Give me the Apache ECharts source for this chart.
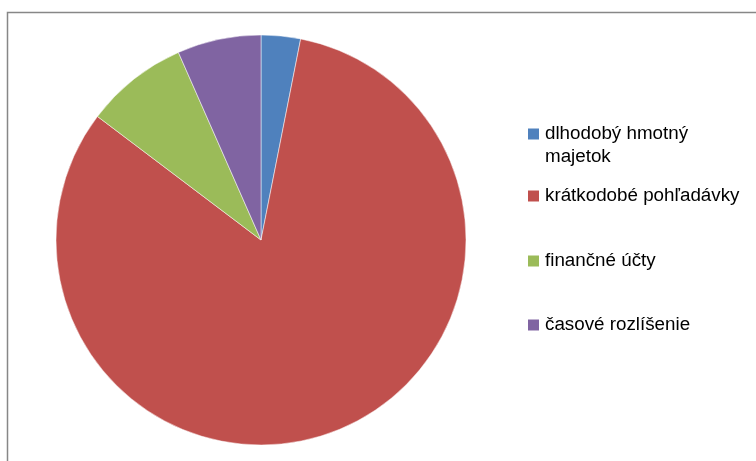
<!DOCTYPE html>
<html>
<head>
<meta charset="utf-8">
<script src="https://cdn.jsdelivr.net/npm/echarts@6/dist/echarts.min.js"></script>
<style>
html,body{margin:0;padding:0;background:#fff;}
#c{width:756px;height:461px;}
</style>
</head>
<body>
<div id="c"></div>
<script>
var categories = ['dlhodobý hmotný\nmajetok', 'krátkodobé pohľadávky', 'finančné účty', 'časové rozlíšenie'];
var values = [3.1, 82.2, 8.1, 6.6];
var colors = ['#4F81BD', '#C0504D', '#9BBB59', '#8064A2'];

var chart = echarts.init(document.getElementById('c'), null, {renderer: 'canvas'});
var font = 'Liberation Sans';
var legendTops = [121.5, 184.5, 249.5, 313.5];
var legends = categories.map(function (name, i) {
  var l = {
    data: [name],
    left: 526,
    top: legendTops[i],
    orient: 'vertical',
    padding: 0,
    itemWidth: 13,
    itemHeight: 13,
    icon: 'rect',
    selectedMode: false,
    textStyle: {fontFamily: font, fontSize: 18.8, lineHeight: 23, color: '#000'}
  };
  if (i === 0) {
    l.itemHeight = 46;
    l.icon = 'path://M0,0L0.01,0L0.01,0.01Z M0,5L13,5L13,18L0,18Z M0,46L0.01,46L0.01,45.99Z';
  }
  return l;
});

chart.setOption({
  animation: false,
  color: colors,
  graphic: [{
    type: 'rect',
    shape: {x: 7.5, y: 12.5, width: 800, height: 500},
    style: {fill: 'none', stroke: '#878787', lineWidth: 1.5},
    silent: true
  }],
  legend: legends,
  series: [{
    type: 'pie',
    center: [261, 240],
    radius: 205,
    startAngle: 90,
    clockwise: true,
    label: {show: false},
    labelLine: {show: false},
    itemStyle: {borderColor: '#fff', borderWidth: 0.5},
    emphasis: {disabled: true},
    data: categories.map(function (c, i) { return {name: c, value: values[i]}; })
  }]
});
</script>
</body>
</html>
